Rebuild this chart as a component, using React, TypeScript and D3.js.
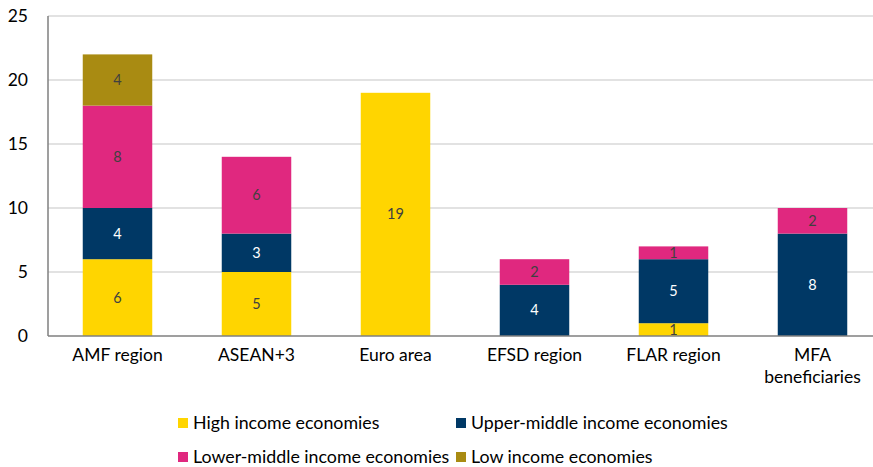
import React from 'react';
import * as d3 from 'd3';

const categories = ['AMF region', 'ASEAN+3', 'Euro area', 'EFSD region', 'FLAR region', 'MFA beneficiaries'];
const seriesNames = ['High income economies', 'Upper-middle income economies', 'Lower-middle income economies', 'Low income economies'];
const highIncome = [6, 5, 19, 0, 1, 0];
const upperMiddle = [4, 3, 0, 4, 5, 8];
const lowerMiddle = [8, 6, 0, 2, 1, 2];
const lowIncome = [4, 0, 0, 0, 0, 0];
const yTicks = [0, 5, 10, 15, 20, 25];

const colors = ['#FFD500', '#003865', '#E0287F', '#A98B12'];
const labelColors = ['#404040', '#ffffff', '#404040', '#404040'];
const FONT = 'Lato, Carlito, Calibri, sans-serif';

export default function App() {
  const width = 873;
  const height = 467;
  const margin = { left: 48, top: 16, bottom: 131 };
  const x = d3.scaleBand<string>().domain(categories).range([margin.left, margin.left + 6 * 139]).paddingInner(0.5).paddingOuter(0.25);
  const y = d3.scaleLinear().domain([0, 25]).range([height - margin.bottom, margin.top]);

  const table = categories.map((c, i) => ({
    cat: c,
    s0: highIncome[i],
    s1: upperMiddle[i],
    s2: lowerMiddle[i],
    s3: lowIncome[i],
  }));
  const stack = d3.stack<any>().keys(['s0', 's1', 's2', 's3'])(table);

  const legendPos = [
    [178, 423],
    [456, 423],
    [178, 457],
    [456, 457],
  ];

  return (
    <svg width={width} height={height} style={{ position: 'absolute', left: 0, top: 0 }}>
      <rect width={width} height={height} fill="#fff" />
      {yTicks.map((t) => (
        <g key={t}>
          {t > 0 && <line x1={margin.left} x2={width} y1={y(t)} y2={y(t)} stroke="#d9d9d9" strokeWidth={1.3} />}
          <text x={28} y={y(t)} dy="0.35em" textAnchor="end" fontFamily={FONT} fontSize={17.5} fill="#000">{t}</text>
        </g>
      ))}
      {stack.map((layer, si) => (
        <g key={si}>
          {layer.map((d, i) => {
            const v = d[1] - d[0];
            if (!v) return null;
            const bx = x(categories[i])!;
            return (
              <g key={i}>
                <rect x={bx} width={x.bandwidth()} y={y(d[1])} height={y(d[0]) - y(d[1])} fill={colors[si]} />
                <text x={bx + x.bandwidth() / 2} y={(y(d[0]) + y(d[1])) / 2} dy="0.35em" textAnchor="middle"
                  fontFamily={FONT} fontSize={14.5} fill={labelColors[si]}>{v}</text>
              </g>
            );
          })}
        </g>
      ))}
      <line x1={margin.left} x2={margin.left} y1={y(25)} y2={y(0)} stroke="#7f7f7f" strokeWidth={1.5} />
      <line x1={margin.left} x2={width} y1={y(0)} y2={y(0)} stroke="#7f7f7f" strokeWidth={1.5} />
      {categories.map((c) => {
        const cx = x(c)! + x.bandwidth() / 2;
        const lines = c === 'MFA beneficiaries' ? ['MFA', 'beneficiaries'] : [c];
        return (
          <text key={c} x={cx} y={y(0) + 25} textAnchor="middle" fontFamily={FONT} fontSize={17.5} fill="#000">
            {lines.map((l, k) => (
              <tspan key={k} x={cx} dy={k === 0 ? 0 : 22}>{l}</tspan>
            ))}
          </text>
        );
      })}
      {seriesNames.map((s, i) => (
        <g key={s}>
          <rect x={legendPos[i][0]} y={legendPos[i][1] - 5} width={10} height={10} fill={colors[i]} />
          <text x={legendPos[i][0] + 15} y={legendPos[i][1]} dy="0.35em" fontFamily={FONT} fontSize={17.8} fill="#000">{s}</text>
        </g>
      ))}
    </svg>
  );
}
